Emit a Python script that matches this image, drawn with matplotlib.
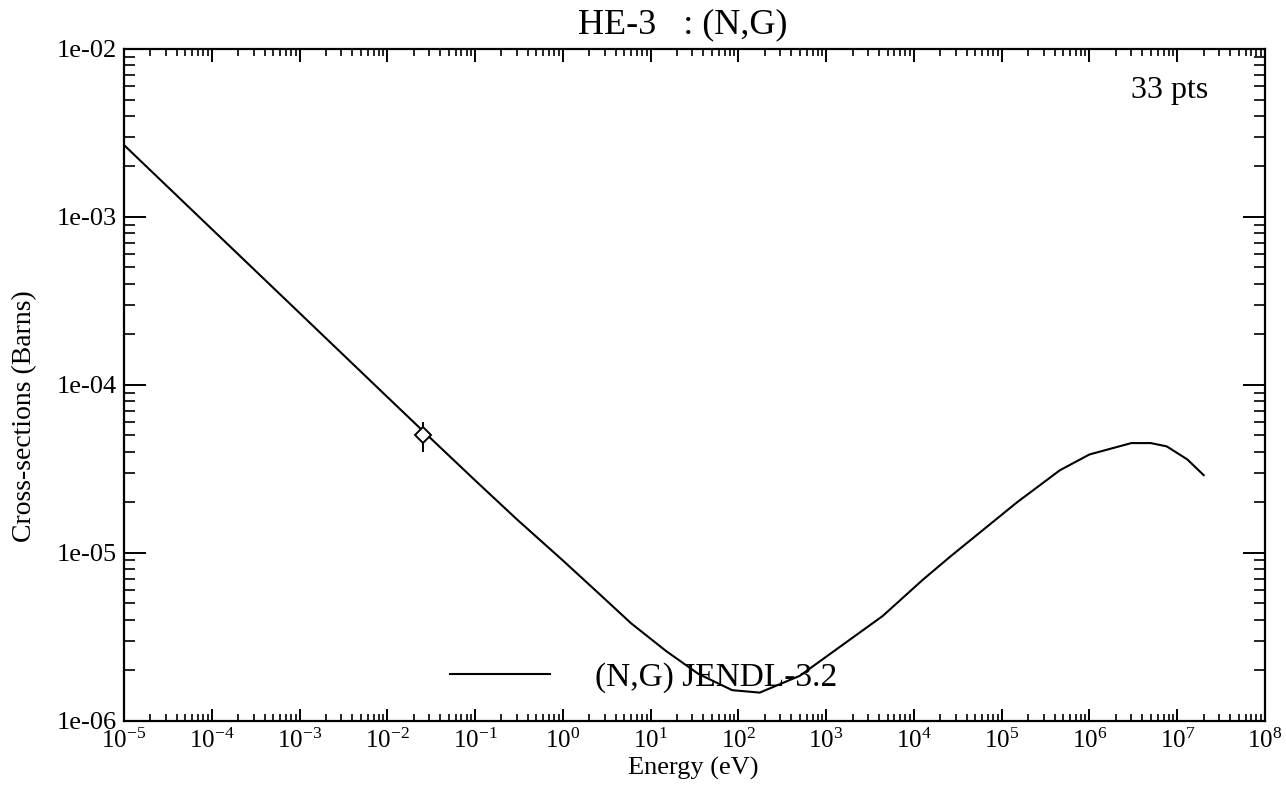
import matplotlib
matplotlib.use("Agg")
import matplotlib.pyplot as plt
from matplotlib.ticker import LogLocator, NullFormatter

# ---- data ----
energy_ev = [1e-5, 1e-4, 1e-3, 1e-2, 2.53e-2, 1e-1, 0.3, 1.0, 2.5, 6.0, 15.0,
             35.0, 85.0, 175.0, 500.0, 1.8e3, 4.4e3, 1.26e4, 2.6e4, 1.5e5,
             4.6e5, 1.0e6, 3.0e6, 5.0e6, 7.6e6, 1.3e7, 2.0e7]
xs_barns = [2.68e-3, 8.47e-4, 2.68e-4, 8.47e-5, 5.33e-5, 2.70e-5, 1.58e-5,
            9.0e-6, 5.8e-6, 3.8e-6, 2.6e-6, 1.9e-6, 1.52e-6, 1.47e-6, 1.85e-6,
            3.0e-6, 4.2e-6, 6.9e-6, 9.5e-6, 2.0e-5, 3.1e-5, 3.85e-5, 4.5e-5,
            4.5e-5, 4.3e-5, 3.6e-5, 2.9e-5]
exp_energy = [0.0253]
exp_xs = [5.0e-5]
exp_err = [1.0e-5]

x_tick_vals = [10.0**k for k in range(-5, 9)]
x_tick_labels = [r"$\mathregular{10^{%d}}$" % k for k in range(-5, 9)]
y_tick_vals = [1e-6, 1e-5, 1e-4, 1e-3, 1e-2]
y_tick_labels = ["1e-06", "1e-05", "1e-04", "1e-03", "1e-02"]

title_text = "HE-3   : (N,G)"
legend_label = "(N,G) JENDL-3.2"
npts_text = "33 pts"

# ---- styling ----
plt.rcParams["font.family"] = ["Liberation Serif", "DejaVu Serif"]
plt.rcParams["mathtext.fontset"] = "custom"
plt.rcParams["mathtext.rm"] = "Liberation Serif"
plt.rcParams["mathtext.it"] = "Liberation Serif:italic"
plt.rcParams["mathtext.bf"] = "Liberation Serif:bold"

fig = plt.figure(figsize=(12.86, 7.92), dpi=100)
W, H = 1286.0, 792.0
L, R, T, B = 124.0, 1265.0, 49.0, 720.7
ax = fig.add_axes([L / W, 1 - B / H, (R - L) / W, (B - T) / H])

ax.plot(energy_ev, xs_barns, color="black", lw=1.5, label=legend_label,
        solid_joinstyle="round")
ax.errorbar(exp_energy, exp_xs, yerr=exp_err, fmt="D", mfc="white", mec="black",
            ms=8, mew=1.4, ecolor="black", elinewidth=1.4, capsize=0, zorder=3)

ax.set_xscale("log")
ax.set_yscale("log")
ax.set_xlim(1e-5, 1e8)
ax.set_ylim(1e-6, 1e-2)

ax.set_xticks(x_tick_vals, x_tick_labels)
ax.set_yticks(y_tick_vals, y_tick_labels)
ax.xaxis.set_minor_locator(LogLocator(base=10, subs=range(2, 10), numticks=100))
ax.yaxis.set_minor_locator(LogLocator(base=10, subs=range(2, 10), numticks=100))
ax.xaxis.set_minor_formatter(NullFormatter())
ax.yaxis.set_minor_formatter(NullFormatter())

ax.tick_params(axis="x", which="major", direction="in", top=True, bottom=True,
               length=9, width=1.4, labelsize=18, pad=6)
ax.tick_params(axis="x", which="minor", direction="in", top=True, bottom=True,
               length=5, width=1.2)
ax.tick_params(axis="y", which="major", direction="in", left=True, right=True,
               length=16, width=1.4, labelsize=19, pad=5)
ax.tick_params(axis="y", which="minor", direction="in", left=True, right=True,
               length=8, width=1.2)
for sp in ax.spines.values():
    sp.set_linewidth(1.6)

ax.set_xlabel("Energy (eV)", fontsize=19)
ax.xaxis.set_label_coords(0.499, -0.054)
ax.set_ylabel("Cross-sections (Barns)", fontsize=20)
ax.yaxis.set_label_coords(-0.0762, 0.453)

ax.text(0.49, 1.0 + 16 / 672.0, title_text, transform=ax.transAxes,
        ha="center", va="baseline", fontsize=26)
ax.text(0.950, 0.9385, npts_text, transform=ax.transAxes, ha="right",
        va="center", fontsize=23)

leg = ax.legend(loc="center left", bbox_to_anchor=(0.286, 0.064), frameon=False,
                fontsize=24, handlelength=3.0, handletextpad=1.35,
                borderpad=0, borderaxespad=0)

fig.savefig("out.png", dpi=100, facecolor="white")
